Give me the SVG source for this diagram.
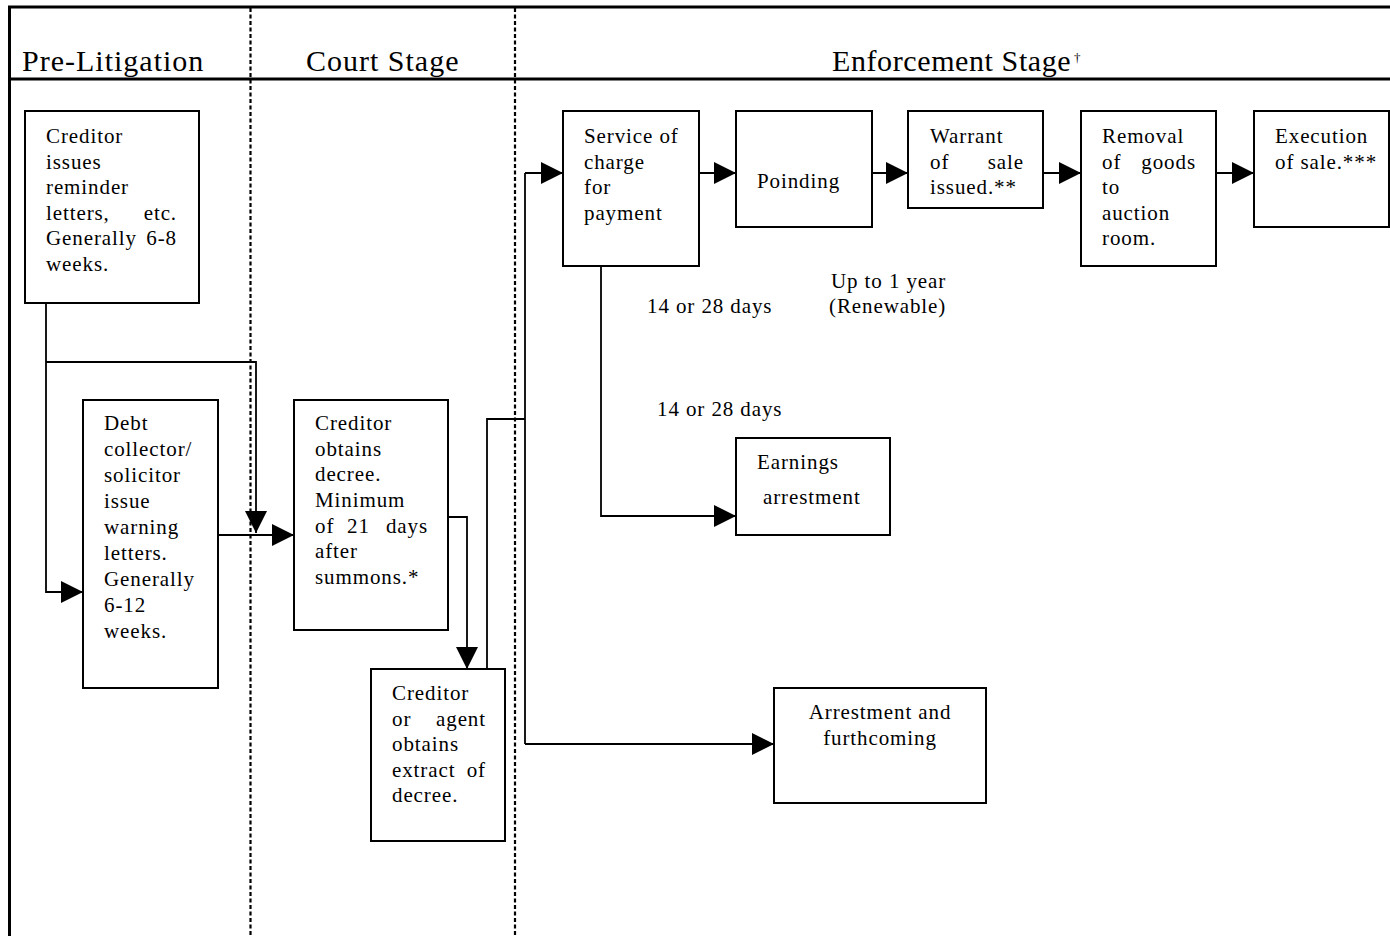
<svg xmlns="http://www.w3.org/2000/svg" width="1390" height="936" viewBox="0 0 1390 936">
<style>
.t{font-family:"Liberation Serif","Times New Roman",serif;font-size:21px;letter-spacing:0.9px;fill:#000}
.h{font-family:"Liberation Serif","Times New Roman",serif;font-size:30px;letter-spacing:1px;fill:#000}
.box{fill:#fff;stroke:#000;stroke-width:2}
.frame{stroke:#000;stroke-width:3;fill:none}
.dash{stroke:#000;stroke-width:2.2;stroke-dasharray:4 2.5;fill:none}
.c{stroke:#000;stroke-width:1.8;fill:none}
.ca{stroke:#000;stroke-width:1.8;fill:none;marker-end:url(#ah)}
</style>
<defs>
<marker id="ah" markerUnits="userSpaceOnUse" markerWidth="22" markerHeight="22" viewBox="0 0 20 20" refX="20" refY="10" orient="auto">
<path d="M0,0 L20,10 L0,20 Z" fill="#000"/>
</marker>
</defs>
<rect width="1390" height="936" fill="#fff"/>
<g id="frame">
<line class="frame" x1="8" y1="7" x2="1390" y2="7"/>
<line class="frame" x1="8" y1="79" x2="1390" y2="79"/>
<line class="frame" x1="9.5" y1="6" x2="9.5" y2="936" stroke-width="2.5"/>
<line class="dash" x1="250.5" y1="8" x2="250.5" y2="936"/>
<line class="dash" x1="515" y1="8" x2="515" y2="936"/>
<text class="h" x="22" y="71">Pre-Litigation</text>
<text class="h" x="306" y="71">Court Stage</text>
<text class="h" x="832" y="71" style="letter-spacing:0.6px">Enforcement Stage</text>
<text class="t" x="1074" y="62" style="font-size:13px;letter-spacing:0">†</text>
</g>
<g id="connectors">
<polyline class="ca" points="46,303 46,592 83,592"/>
<polyline class="ca" points="46,362 256,362 256,533"/>
<polyline class="ca" points="218,535 294,535"/>
<polyline class="ca" points="448,517 467,517 467,669"/>
<polyline class="c" points="487,669 487,419 525,419"/>
<polyline class="ca" points="525,173 563,173"/>
<line class="c" x1="525" y1="173" x2="525" y2="744"/>
<polyline class="ca" points="525,744 774,744"/>
<polyline class="ca" points="699,173 736,173"/>
<polyline class="ca" points="872,173 908,173"/>
<polyline class="ca" points="1043,173 1081,173"/>
<polyline class="ca" points="1216,173 1254,173"/>
<polyline class="ca" points="601,266 601,516 736,516"/>
</g>
<g id="labels">
<text class="t" x="647" y="313">14 or 28 days</text>
<text class="t" x="831" y="288">Up to 1 year</text>
<text class="t" x="829" y="313">(Renewable)</text>
<text class="t" x="657" y="416">14 or 28 days</text>
</g>
<g id="n1">
<rect class="box" x="25" y="111" width="174" height="192"/>
<text class="t" x="46" y="143">Creditor</text>
<text class="t" x="46" y="168.5">issues</text>
<text class="t" x="46" y="194">reminder</text>
<text class="t" y="219.5"><tspan x="46">letters,</tspan><tspan x="177" text-anchor="end">etc.</tspan></text>
<text class="t" y="245"><tspan x="46">Generally</tspan><tspan x="177" text-anchor="end">6-8</tspan></text>
<text class="t" x="46" y="270.5">weeks.</text>
</g>
<g id="n2">
<rect class="box" x="83" y="400" width="135" height="288"/>
<text class="t" x="104" y="430">Debt</text>
<text class="t" x="104" y="456">collector/</text>
<text class="t" x="104" y="482">solicitor</text>
<text class="t" x="104" y="508">issue</text>
<text class="t" x="104" y="534">warning</text>
<text class="t" x="104" y="560">letters.</text>
<text class="t" x="104" y="586">Generally</text>
<text class="t" x="104" y="612">6-12</text>
<text class="t" x="104" y="638">weeks.</text>
</g>
<g id="n3">
<rect class="box" x="294" y="400" width="154" height="230"/>
<text class="t" x="315" y="430">Creditor</text>
<text class="t" x="315" y="456">obtains</text>
<text class="t" x="315" y="481">decree.</text>
<text class="t" x="315" y="507">Minimum</text>
<text class="t" y="533"><tspan x="315">of</tspan><tspan x="347">21</tspan><tspan x="428" text-anchor="end">days</tspan></text>
<text class="t" x="315" y="558">after</text>
<text class="t" x="315" y="584">summons.*</text>
</g>
<g id="n4">
<rect class="box" x="371" y="669" width="134" height="172"/>
<text class="t" x="392" y="700">Creditor</text>
<text class="t" y="725.5"><tspan x="392">or</tspan><tspan x="486" text-anchor="end">agent</tspan></text>
<text class="t" x="392" y="751">obtains</text>
<text class="t" y="776.5"><tspan x="392">extract</tspan><tspan x="486" text-anchor="end">of</tspan></text>
<text class="t" x="392" y="802">decree.</text>
</g>
<g id="n5">
<rect class="box" x="563" y="111" width="136" height="155"/>
<text class="t" x="584" y="143">Service of</text>
<text class="t" x="584" y="168.5">charge</text>
<text class="t" x="584" y="194">for</text>
<text class="t" x="584" y="219.5">payment</text>
</g>
<g id="n6">
<rect class="box" x="736" y="111" width="136" height="116"/>
<text class="t" x="757" y="188">Poinding</text>
</g>
<g id="n7">
<rect class="box" x="908" y="111" width="135" height="97"/>
<text class="t" x="930" y="143">Warrant</text>
<text class="t" y="168.5"><tspan x="930">of</tspan><tspan x="1024" text-anchor="end">sale</tspan></text>
<text class="t" x="930" y="194">issued.**</text>
</g>
<g id="n8">
<rect class="box" x="1081" y="111" width="135" height="155"/>
<text class="t" x="1102" y="143">Removal</text>
<text class="t" y="168.5"><tspan x="1102">of</tspan><tspan x="1196" text-anchor="end">goods</tspan></text>
<text class="t" x="1102" y="194">to</text>
<text class="t" x="1102" y="219.5">auction</text>
<text class="t" x="1102" y="245">room.</text>
</g>
<g id="n9">
<rect class="box" x="1254" y="111" width="135" height="116"/>
<text class="t" x="1275" y="143">Execution</text>
<text class="t" x="1275" y="168.5">of sale.***</text>
</g>
<g id="n10">
<rect class="box" x="736" y="438" width="154" height="97"/>
<text class="t" x="757" y="469">Earnings</text>
<text class="t" x="763" y="504">arrestment</text>
</g>
<g id="n11">
<rect class="box" x="774" y="688" width="212" height="115"/>
<text class="t" x="880" y="719" text-anchor="middle">Arrestment and</text>
<text class="t" x="880" y="745" text-anchor="middle">furthcoming</text>
</g>
</svg>
